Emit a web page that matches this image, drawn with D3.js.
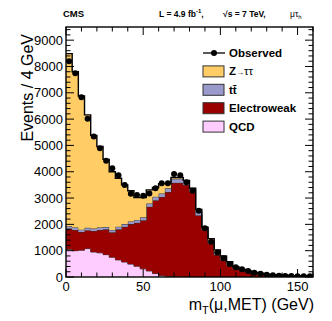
<!DOCTYPE html>
<html><head><meta charset="utf-8">
<script src="https://cdn.jsdelivr.net/npm/d3@7"></script>
<style>
body{margin:0;background:#fff}
svg{display:block}
text{font-family:"Liberation Sans",Arial,Helvetica,sans-serif;fill:#000}
</style>
</head><body>
<svg id="c" width="332" height="321"></svg>
<script>
// ---- data (bin lower edges in GeV, 4 GeV wide bins) ----
const binLow = [0,4,8,12,16,20,24,28,32,36,40,44,48,52,56,60,64,68,72,76,80,84,88,92,96,100,104,108,112,116,120,124,128,132,136,140,144,148,152,156];
const binWidth = 4;
const qcd = [1050,1000,1020,1080,950,920,850,750,650,570,490,410,310,230,130,60,30,15,5,0,0,0,0,0,0,0,0,0,0,0,0,0,0,0,0,0,0,0,0,0];
const electroweak = [790,790,690,700,800,870,960,950,1160,1340,1520,1650,1850,2440,2790,2980,3200,3565,3575,3500,3250,2350,1790,1280,840,650,450,330,260,190,130,100,80,65,55,50,40,40,35,35];
const ttbar = [90,90,90,90,90,90,90,90,100,100,100,110,110,120,130,130,140,150,150,140,120,150,100,120,110,100,80,60,40,40,30,30,25,20,15,15,10,10,10,10];
const ztautau = [6560,5920,5080,4290,3540,3080,2570,2210,1840,1490,1170,850,750,520,350,380,180,50,50,30,0,70,0,60,80,50,50,0,0,0,10,10,5,5,5,0,0,0,0,0];
const observed = [8200,7740,6830,6010,5340,4890,4420,4130,3870,3500,3160,3120,3090,3170,3370,3560,3560,3910,3870,3600,3280,2520,1850,1340,930,710,490,370,290,230,165,127,90,65,50,40,38,30,25,25];
const xTickLabels = [0,50,100,150];
const yTickLabels = [0,1000,2000,3000,4000,5000,6000,7000,8000,9000];
const legendLabels = ["Observed","Z\u2192\u03C4\u03C4","t t\u0304","Electroweak","QCD"];
const colors = {qcd:"#FFCCFF", ewk:"#990000", tt:"#9999CC", ztt:"#FFCC66"};

// ---- layout ----
const L = 66, R = 313, T = 27, B = 277;
const svg = d3.select("#c");
svg.append("rect").attr("width",332).attr("height",321).attr("fill","#fff");
const x = d3.scaleLinear().domain([0,160]).range([L,R]);
const y = d3.scaleLinear().domain([0,9500]).range([B,T]);

const rows = binLow.map((b,i)=>({x:b, qcd:qcd[i], ewk:electroweak[i], tt:ttbar[i], ztt:ztautau[i]}));
const keys = ["qcd","ewk","tt","ztt"];
const stacked = d3.stack().keys(keys)(rows);

svg.append("clipPath").attr("id","clip").append("rect").attr("x",L).attr("y",T).attr("width",R-L).attr("height",B-T);
const g = svg.append("g").attr("clip-path","url(#clip)");

const area = d3.area().x(d=>x(d.x)).y0(d=>y(d.y0)).y1(d=>y(d.y1)).curve(d3.curveStepAfter);
const line = d3.line().x(d=>x(d.x)).y(d=>y(d.y1)).curve(d3.curveStepAfter);

stacked.forEach(layer=>{
  const pts = layer.map((d,i)=>({x:binLow[i], y0:d[0], y1:d[1]}));
  const last = pts[pts.length-1];
  pts.push({x:last.x+binWidth, y0:last.y0, y1:last.y1});
  g.append("path").attr("d",area(pts)).attr("fill",colors[layer.key]).attr("stroke","none");
  g.append("path").attr("d",line(pts)).attr("fill","none")
    .attr("stroke", layer.key==="ztt" ? "#000" : "#333").attr("stroke-width", layer.key==="ztt"?1.4:1);
});

// observed points
g.selectAll("circle.obs").data(observed).enter().append("circle")
  .attr("cx",(d,i)=>x(binLow[i]+binWidth/2)).attr("cy",d=>y(d)).attr("r",3).attr("fill","#000");

// frame
svg.append("rect").attr("x",L).attr("y",T).attr("width",R-L).attr("height",B-T)
  .attr("fill","none").attr("stroke","#000").attr("stroke-width",1.4);

// ticks (inward, all four sides)
const tk = svg.append("g").attr("stroke","#000").attr("stroke-width",1);
d3.range(0,161,10).forEach(v=>{
  const len = v%50===0 ? 8 : 4.5;
  tk.append("line").attr("x1",x(v)).attr("x2",x(v)).attr("y1",B).attr("y2",B-len);
  tk.append("line").attr("x1",x(v)).attr("x2",x(v)).attr("y1",T).attr("y2",T+len);
});
d3.range(0,9501,200).forEach(v=>{
  const len = v%1000===0 ? 8 : 4.5;
  tk.append("line").attr("x1",L).attr("x2",L+len).attr("y1",y(v)).attr("y2",y(v));
  tk.append("line").attr("x1",R).attr("x2",R-len).attr("y1",y(v)).attr("y2",y(v));
});

// tick labels
svg.selectAll("text.xl").data(xTickLabels).enter().append("text")
  .attr("x",d=>x(d)).attr("y",B+14).attr("text-anchor","middle").attr("font-size",13).text(d=>d);
svg.selectAll("text.yl").data(yTickLabels).enter().append("text")
  .attr("x",L-3).attr("y",d=>y(d)+4.5).attr("text-anchor","end").attr("font-size",13).text(d=>d);

// axis titles
const xt = svg.append("text").attr("x",R+1).attr("y",310).attr("text-anchor","end").attr("font-size",16);
xt.append("tspan").text("m");
xt.append("tspan").attr("font-size",11).attr("dy",4).text("T");
xt.append("tspan").attr("dy",-4).text("(\u03BC,MET) (GeV)");
svg.append("text").attr("transform","translate(33,34) rotate(-90)").attr("text-anchor","end")
  .attr("font-size",16).text("Events / 4 GeV");

// header
svg.append("text").attr("x",63).attr("y",17).attr("font-size",8.5).attr("font-weight","bold")
  .attr("textLength",21).attr("lengthAdjust","spacingAndGlyphs").text("CMS");
const lum = svg.append("text").attr("x",159).attr("y",17).attr("font-size",8.5).attr("font-weight","bold");
lum.append("tspan").text("L = 4.9 fb");
lum.append("tspan").attr("font-size",6).attr("dy",-4).text("-1");
lum.append("tspan").attr("dy",4).text(",");
svg.append("text").attr("x",223).attr("y",17).attr("font-size",8.5).attr("font-weight","bold").text("\u221As = 7 TeV,");
const ch = svg.append("text").attr("x",290).attr("y",17).attr("font-size",8.5);
ch.append("tspan").text("\u03BC\u03C4");
ch.append("tspan").attr("font-size",6).attr("dy",2).text("h");

// legend
const lg = svg.append("g");
const ly0 = 53, ldy = 18.4, lbx = 203, lbw = 21, lbh = 11, ltx = 229;
lg.append("line").attr("x1",lbx).attr("x2",lbx+lbw+1).attr("y1",ly0).attr("y2",ly0).attr("stroke","#000").attr("stroke-width",1.3);
lg.append("circle").attr("cx",lbx+11).attr("cy",ly0).attr("r",3).attr("fill","#000");
const legKeys = [null,"ztt","tt","ewk","qcd"];
legendLabels.forEach((lab,i)=>{
  const cy = ly0 + i*ldy;
  if(i>0){
    lg.append("rect").attr("x",lbx).attr("y",cy-lbh/2).attr("width",lbw).attr("height",lbh)
      .attr("fill",colors[legKeys[i]]).attr("stroke","#333").attr("stroke-width",1);
  }
  const t = lg.append("text").attr("x",ltx).attr("y",cy+4).attr("font-size",11.5).attr("font-weight","bold");
  if(i===1){
    t.append("tspan").text("Z");
    t.append("tspan").attr("font-size",8).text("\u2192");
    t.append("tspan").attr("font-weight","normal").text("\u03C4\u03C4");
  } else if(i===2){
    t.text("tt\u0304");
  } else {
    t.text(lab);
  }
});
</script>
</body></html>
